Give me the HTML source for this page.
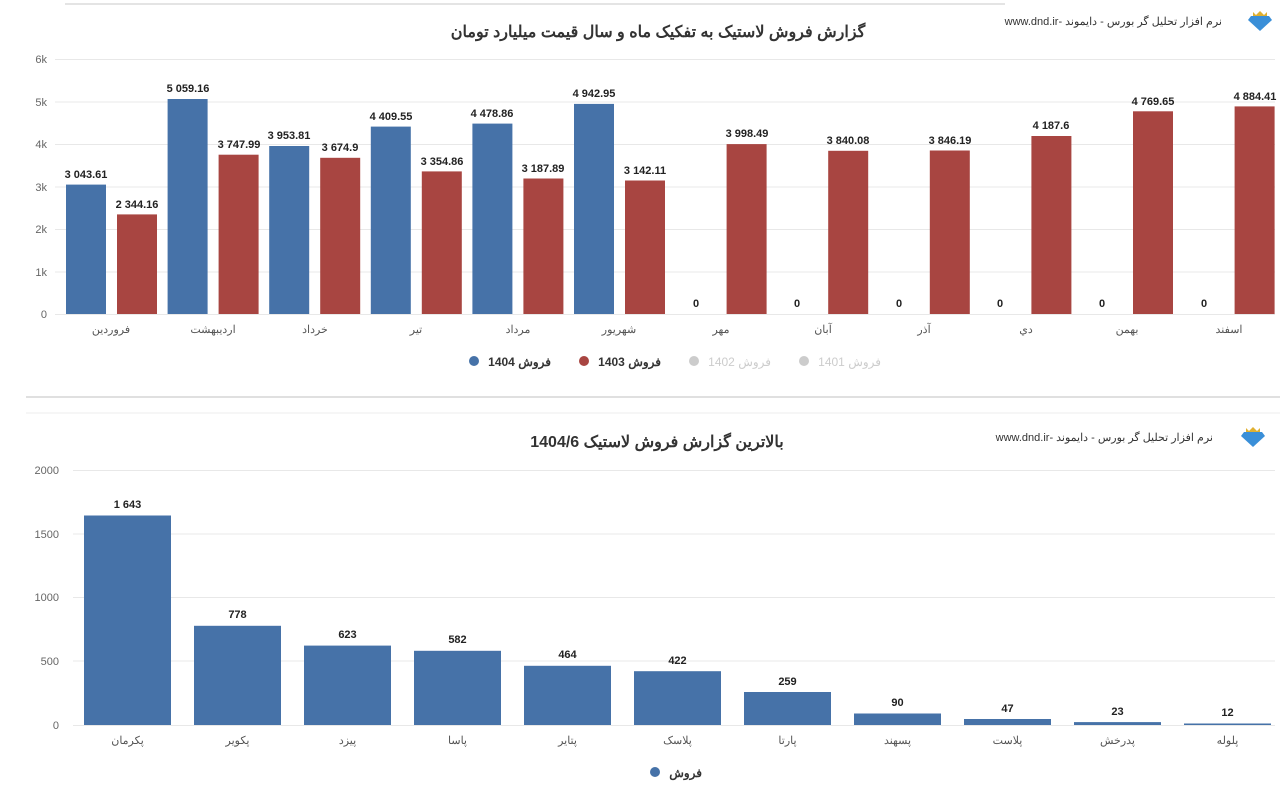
<!DOCTYPE html>
<html><head><meta charset="utf-8"><style>
body{margin:0;background:#fff;}
svg{display:block;font-family:"Liberation Sans","Noto Sans CJK SC",sans-serif;}
.ax{font-size:11px;fill:#666;}
.cat{font-size:11px;fill:#555;}
.v{font-size:11px;font-weight:bold;fill:#222;text-anchor:middle;}
.g{stroke:#e8e8e8;stroke-width:1;}
.b{fill:#4672a8;}.r{fill:#a84541;}
</style></head><body>
<svg width="1280" height="804" viewBox="0 0 1280 804">
<line x1="65" y1="4" x2="1005" y2="4" stroke="#e4e4e4" stroke-width="2"/>
<text x="658" y="37" text-anchor="middle" font-size="16" font-weight="bold" fill="#333" direction="rtl">گزارش فروش لاستیک به تفکیک ماه و سال قیمت میلیارد تومان</text>
<text x="1222" y="25" text-anchor="start" font-size="11" fill="#333" direction="rtl">نرم افزار تحلیل گر بورس - دایموند -www.dnd.ir</text>
<polygon points="1251,16 1269,16 1272,20 1260,31 1248,20" fill="#3a8fd8"/><polygon points="1253,12 1256,15 1260,11 1264,15 1267,12 1267,16 1253,16" fill="#e0b030"/>
<g class="g">
<line x1="55" y1="59.5" x2="1275" y2="59.5"/><line x1="55" y1="102" x2="1275" y2="102"/><line x1="55" y1="144.5" x2="1275" y2="144.5"/><line x1="55" y1="187" x2="1275" y2="187"/><line x1="55" y1="229.5" x2="1275" y2="229.5"/><line x1="55" y1="272" x2="1275" y2="272"/><line x1="55" y1="314.5" x2="1275" y2="314.5"/>
</g>
<g class="ax" text-anchor="end"><text x="47" y="63">6k</text><text x="47" y="106">5k</text><text x="47" y="148">4k</text><text x="47" y="191">3k</text><text x="47" y="233">2k</text><text x="47" y="276">1k</text><text x="47" y="318">0</text></g>
<g>
<rect class="b" x="66" y="184.6" width="40" height="129.4"/><rect class="r" x="117" y="214.4" width="40" height="99.6"/>
<rect class="b" x="167.6" y="99" width="40" height="215"/><rect class="r" x="218.6" y="154.7" width="40" height="159.3"/>
<rect class="b" x="269.2" y="146" width="40" height="168"/><rect class="r" x="320.2" y="157.8" width="40" height="156.2"/>
<rect class="b" x="370.8" y="126.6" width="40" height="187.4"/><rect class="r" x="421.8" y="171.4" width="40" height="142.6"/>
<rect class="b" x="472.4" y="123.6" width="40" height="190.4"/><rect class="r" x="523.4" y="178.5" width="40" height="135.5"/>
<rect class="b" x="574" y="103.9" width="40" height="210.1"/><rect class="r" x="625" y="180.5" width="40" height="133.5"/>
<rect class="r" x="726.6" y="144.1" width="40" height="169.9"/>
<rect class="r" x="828.2" y="150.8" width="40" height="163.2"/>
<rect class="r" x="929.8" y="150.5" width="40" height="163.5"/>
<rect class="r" x="1031.4" y="136" width="40" height="178"/>
<rect class="r" x="1133" y="111.3" width="40" height="202.7"/>
<rect class="r" x="1234.6" y="106.4" width="40" height="207.6"/>
</g>
<g class="v">
<text x="86" y="178">3 043.61</text><text x="137" y="208">2 344.16</text>
<text x="188" y="92">5 059.16</text><text x="239" y="148">3 747.99</text>
<text x="289" y="139">3 953.81</text><text x="340" y="151">3 674.9</text>
<text x="391" y="120">4 409.55</text><text x="442" y="165">3 354.86</text>
<text x="492" y="117">4 478.86</text><text x="543" y="172">3 187.89</text>
<text x="594" y="97">4 942.95</text><text x="645" y="174">3 142.11</text>
<text x="696" y="307">0</text><text x="747" y="137">3 998.49</text>
<text x="797" y="307">0</text><text x="848" y="144">3 840.08</text>
<text x="899" y="307">0</text><text x="950" y="144">3 846.19</text>
<text x="1000" y="307">0</text><text x="1051" y="129">4 187.6</text>
<text x="1102" y="307">0</text><text x="1153" y="105">4 769.65</text>
<text x="1204" y="307">0</text><text x="1255" y="100">4 884.41</text>
</g>
<g class="cat" text-anchor="middle">
<text x="111" y="333">فروردین</text><text x="213" y="333">اردیبهشت</text><text x="315" y="333">خرداد</text><text x="416" y="333">تیر</text><text x="518" y="333">مرداد</text><text x="619" y="333">شهریور</text><text x="721" y="333">مهر</text><text x="823" y="333">آبان</text><text x="924" y="333">آذر</text><text x="1026" y="333">دي</text><text x="1127" y="333">بهمن</text><text x="1229" y="333">اسفند</text>
</g>
<g font-size="12" font-weight="bold">
<circle cx="474" cy="361" r="5" fill="#4672a8"/><text x="551" y="366" text-anchor="start" fill="#333" direction="rtl">فروش 1404</text>
<circle cx="584" cy="361" r="5" fill="#a84541"/><text x="661" y="366" text-anchor="start" fill="#333" direction="rtl">فروش 1403</text>
<circle cx="694" cy="361" r="5" fill="#ccc"/><text x="771" y="366" text-anchor="start" fill="#ccc" font-weight="normal" direction="rtl">فروش 1402</text>
<circle cx="804" cy="361" r="5" fill="#ccc"/><text x="881" y="366" text-anchor="start" fill="#ccc" font-weight="normal" direction="rtl">فروش 1401</text>
</g>
<line x1="26" y1="397" x2="1280" y2="397" stroke="#e0e0e0" stroke-width="2"/>
<line x1="26" y1="413" x2="1280" y2="413" stroke="#ececec" stroke-width="1"/>
<text x="657" y="447" text-anchor="middle" font-size="16" font-weight="bold" fill="#333" direction="rtl">بالاترین گزارش فروش لاستیک 1404/6</text>
<text x="1213" y="441" text-anchor="start" font-size="11" fill="#333" direction="rtl">نرم افزار تحلیل گر بورس - دایموند -www.dnd.ir</text>
<polygon points="1244,432 1262,432 1265,436 1253,447 1241,436" fill="#3a8fd8"/><polygon points="1246,428 1249,431 1253,427 1257,431 1260,428 1260,432 1246,432" fill="#e0b030"/>
<g class="g">
<line x1="73" y1="470.5" x2="1275" y2="470.5"/><line x1="73" y1="534" x2="1275" y2="534"/><line x1="73" y1="597.5" x2="1275" y2="597.5"/><line x1="73" y1="661" x2="1275" y2="661"/><line x1="73" y1="725.5" x2="1275" y2="725.5"/>
</g>
<g class="ax" text-anchor="end"><text x="59" y="474">2000</text><text x="59" y="538">1500</text><text x="59" y="601">1000</text><text x="59" y="665">500</text><text x="59" y="729">0</text></g>
<g class="b">
<rect x="84" y="515.5" width="87" height="209.5"/><rect x="194" y="625.8" width="87" height="99.2"/><rect x="304" y="645.6" width="87" height="79.4"/><rect x="414" y="650.8" width="87" height="74.2"/><rect x="524" y="665.8" width="87" height="59.2"/><rect x="634" y="671.2" width="87" height="53.8"/><rect x="744" y="692" width="87" height="33"/><rect x="854" y="713.5" width="87" height="11.5"/><rect x="964" y="719" width="87" height="6"/><rect x="1074" y="722.1" width="87" height="2.9"/><rect x="1184" y="723.5" width="87" height="1.5"/>
</g>
<g class="v">
<text x="127.5" y="508">1 643</text><text x="237.5" y="618">778</text><text x="347.5" y="638">623</text><text x="457.5" y="643">582</text><text x="567.5" y="658">464</text><text x="677.5" y="664">422</text><text x="787.5" y="685">259</text><text x="897.5" y="706">90</text><text x="1007.5" y="712">47</text><text x="1117.5" y="715">23</text><text x="1227.5" y="716">12</text>
</g>
<g class="cat" text-anchor="middle">
<text x="127.5" y="744">پکرمان</text><text x="237.5" y="744">پکویر</text><text x="347.5" y="744">پیزد</text><text x="457.5" y="744">پاسا</text><text x="567.5" y="744">پتایر</text><text x="677.5" y="744">پلاسک</text><text x="787.5" y="744">پارتا</text><text x="897.5" y="744">پسهند</text><text x="1007.5" y="744">پلاست</text><text x="1117.5" y="744">پدرخش</text><text x="1227.5" y="744">پلوله</text>
</g>
<circle cx="655" cy="772" r="5" fill="#4672a8"/><text x="702" y="777" text-anchor="start" font-size="12" font-weight="bold" fill="#333" direction="rtl">فروش</text>
</svg>
</body></html>
